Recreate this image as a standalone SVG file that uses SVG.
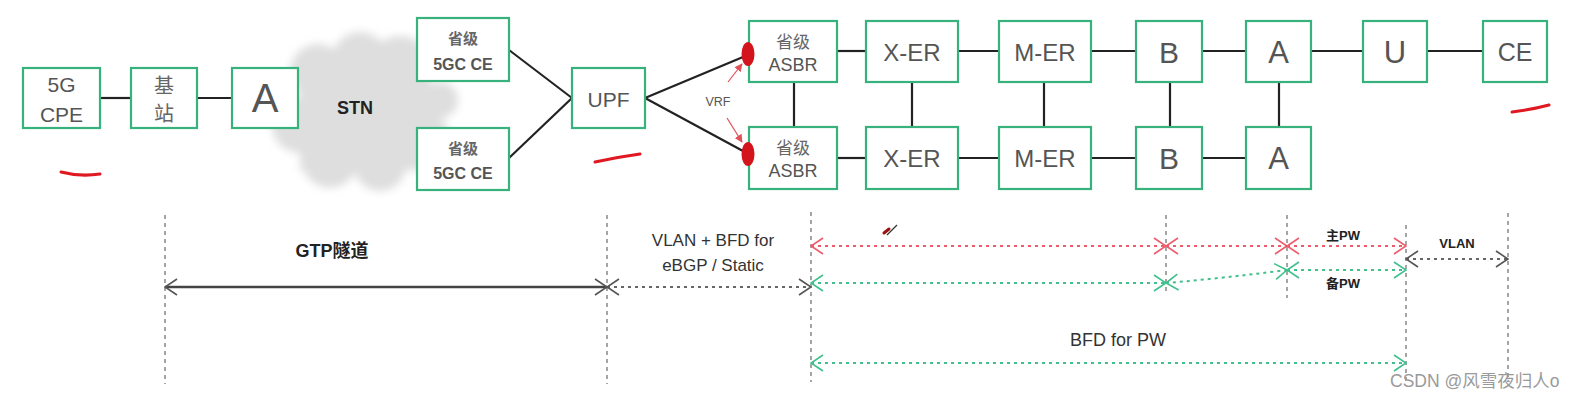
<svg xmlns="http://www.w3.org/2000/svg" width="1586" height="400" viewBox="0 0 1586 400">
<style>
.box{fill:#fff;stroke:#38b27c;stroke-width:2.2}
.t{font-family:"Liberation Sans","Noto Sans CJK SC",sans-serif;fill:#555;text-anchor:middle;dominant-baseline:central}
.cn{font-family:"Noto Sans CJK SC","Liberation Sans",sans-serif;fill:#666;text-anchor:middle;dominant-baseline:central}
.b{font-family:"Liberation Sans","Noto Sans CJK SC",sans-serif;fill:#222;font-weight:bold;text-anchor:middle;dominant-baseline:central}
.lt{font-family:"Liberation Sans","Noto Sans CJK SC",sans-serif;fill:#333;text-anchor:middle;dominant-baseline:central}
.ln{stroke:#222;stroke-width:2.2;fill:none}
.vd{stroke:#888;stroke-width:1.5;stroke-dasharray:4 4;fill:none}
.red{stroke:#ee5b6a;stroke-width:2;stroke-dasharray:3 4;fill:none;marker-start:url(#mr);marker-end:url(#mr)}
.grn{stroke:#3fc08d;stroke-width:2;stroke-dasharray:3 4;fill:none;marker-start:url(#mg);marker-end:url(#mg)}
.gry{stroke:#666;stroke-width:2;stroke-dasharray:3 4;fill:none;marker-start:url(#mk);marker-end:url(#mk)}
.mark{stroke:#e01822;stroke-width:3;fill:none;stroke-linecap:round}
</style>
<defs>
<marker id="mk" viewBox="0 0 14 18" refX="13" refY="9" markerWidth="14" markerHeight="18" markerUnits="userSpaceOnUse" orient="auto-start-reverse"><path d="M1,1 L13,9 L1,17" fill="none" stroke="#555" stroke-width="1.6"/></marker>
<marker id="mr" viewBox="0 0 14 18" refX="13" refY="9" markerWidth="14" markerHeight="18" markerUnits="userSpaceOnUse" orient="auto-start-reverse"><path d="M1,1 L13,9 L1,17" fill="none" stroke="#ee5b6a" stroke-width="1.6"/></marker>
<marker id="mg" viewBox="0 0 14 18" refX="13" refY="9" markerWidth="14" markerHeight="18" markerUnits="userSpaceOnUse" orient="auto-start-reverse"><path d="M1,1 L13,9 L1,17" fill="none" stroke="#3fc08d" stroke-width="1.6"/></marker>
<marker id="ma" viewBox="0 0 10 10" refX="9" refY="5" markerWidth="8" markerHeight="8" markerUnits="userSpaceOnUse" orient="auto"><path d="M0,0 L10,5 L0,10 Z" fill="#e0505a"/></marker>
<filter id="blur" x="-20%" y="-20%" width="140%" height="140%"><feGaussianBlur stdDeviation="4"/></filter>
</defs>
<rect width="1586" height="400" fill="#fff"/>

<g id="stn-cloud" filter="url(#blur)" fill="#dedede">
<circle cx="318" cy="72" r="28"/>
<circle cx="360" cy="60" r="28"/>
<circle cx="400" cy="68" r="32"/>
<circle cx="300" cy="125" r="28"/>
<circle cx="330" cy="160" r="28"/>
<circle cx="380" cy="165" r="26"/>
<circle cx="420" cy="140" r="30"/>
<circle cx="440" cy="100" r="18"/>
<rect x="300" y="72" width="130" height="98"/>
</g>
<text class="b" x="355" y="108" font-size="18">STN</text>

<g id="connectors">
<line class="ln" x1="100" y1="98" x2="131" y2="98"/>
<line class="ln" x1="197" y1="98" x2="232" y2="98"/>
<line class="ln" x1="509" y1="50" x2="572" y2="98"/>
<line class="ln" x1="509" y1="158" x2="572" y2="98"/>
<line class="ln" x1="645" y1="98" x2="743" y2="57"/>
<line class="ln" x1="645" y1="98" x2="743" y2="151"/>
<line class="ln" x1="837" y1="51" x2="866" y2="51"/>
<line class="ln" x1="958" y1="51" x2="999" y2="51"/>
<line class="ln" x1="1091" y1="51" x2="1136" y2="51"/>
<line class="ln" x1="1202" y1="51" x2="1246" y2="51"/>
<line class="ln" x1="1311" y1="51" x2="1363" y2="51"/>
<line class="ln" x1="1427" y1="51" x2="1483" y2="51"/>
<line class="ln" x1="837" y1="158" x2="866" y2="158"/>
<line class="ln" x1="958" y1="158" x2="999" y2="158"/>
<line class="ln" x1="1091" y1="158" x2="1136" y2="158"/>
<line class="ln" x1="1202" y1="158" x2="1246" y2="158"/>
<line class="ln" x1="794" y1="82" x2="794" y2="127"/>
<line class="ln" x1="912" y1="82" x2="912" y2="127"/>
<line class="ln" x1="1044" y1="82" x2="1044" y2="127"/>
<line class="ln" x1="1170" y1="82" x2="1170" y2="127"/>
<line class="ln" x1="1279" y1="82" x2="1279" y2="127"/>
</g>

<g id="cpe"><rect class="box" x="23" y="68" width="77" height="60"/><text class="t" x="61.5" y="84" font-size="21">5G</text><text class="t" x="61.5" y="114" font-size="21">CPE</text></g>
<g id="bs"><rect class="box" x="131" y="68" width="66" height="60"/><text class="cn" x="164" y="84" font-size="20">基</text><text class="cn" x="164" y="112" font-size="20">站</text></g>
<g id="a0"><rect class="box" x="232" y="68" width="66" height="60"/><text class="t" x="265" y="98" font-size="40">A</text></g>
<g id="ce5gc1"><rect class="box" x="417" y="18" width="92" height="63"/><text class="cn" x="463" y="37" font-size="15" font-weight="bold">省级</text><text class="t" x="463" y="64" font-size="16" font-weight="bold">5GC CE</text></g>
<g id="ce5gc2"><rect class="box" x="417" y="128" width="92" height="62"/><text class="cn" x="463" y="147" font-size="15" font-weight="bold">省级</text><text class="t" x="463" y="173" font-size="16" font-weight="bold">5GC CE</text></g>
<g id="upf"><rect class="box" x="572" y="68" width="73" height="60"/><text class="t" x="608.5" y="99" font-size="21">UPF</text></g>

<g id="asbr1"><rect class="box" x="749" y="21" width="88" height="61"/><text class="cn" x="793" y="40" font-size="17">省级</text><text class="t" x="793" y="65" font-size="18">ASBR</text></g>
<g id="asbr2"><rect class="box" x="749" y="127" width="88" height="62"/><text class="cn" x="793" y="146" font-size="17">省级</text><text class="t" x="793" y="171" font-size="18">ASBR</text></g>
<g id="xer1"><rect class="box" x="866" y="21" width="92" height="61"/><text class="t" x="912" y="52" font-size="24">X-ER</text></g>
<g id="xer2"><rect class="box" x="866" y="127" width="92" height="62"/><text class="t" x="912" y="158" font-size="24">X-ER</text></g>
<g id="mer1"><rect class="box" x="999" y="21" width="92" height="61"/><text class="t" x="1045" y="52" font-size="24">M-ER</text></g>
<g id="mer2"><rect class="box" x="999" y="127" width="92" height="62"/><text class="t" x="1045" y="158" font-size="24">M-ER</text></g>
<g id="b1"><rect class="box" x="1136" y="21" width="66" height="61"/><text class="t" x="1169" y="52" font-size="30">B</text></g>
<g id="b2"><rect class="box" x="1136" y="127" width="66" height="62"/><text class="t" x="1169" y="158" font-size="30">B</text></g>
<g id="a1"><rect class="box" x="1246" y="21" width="65" height="61"/><text class="t" x="1278.5" y="52" font-size="31">A</text></g>
<g id="a2"><rect class="box" x="1246" y="127" width="65" height="62"/><text class="t" x="1278.5" y="158" font-size="31">A</text></g>
<g id="u"><rect class="box" x="1363" y="21" width="64" height="61"/><text class="t" x="1395" y="52" font-size="31">U</text></g>
<g id="ce"><rect class="box" x="1483" y="21" width="64" height="61"/><text class="t" x="1515" y="52" font-size="25">CE</text></g>

<g id="vrf">
<ellipse cx="748" cy="54" rx="6.5" ry="12" fill="#d4141c"/>
<ellipse cx="748" cy="154" rx="6.5" ry="12" fill="#d4141c"/>
<line x1="728" y1="82" x2="742" y2="64" stroke="#e0505a" stroke-width="1.2" marker-end="url(#ma)"/>
<line x1="727" y1="118" x2="742" y2="142" stroke="#e0505a" stroke-width="1.2" marker-end="url(#ma)"/>
<text class="t" x="718" y="102" font-size="12.5">VRF</text>
</g>

<g id="red-marks">
<path class="mark" d="M61,172 Q80,177 100,174"/>
<path class="mark" d="M595,162 Q618,157 640,154"/>
<path class="mark" d="M1512,112 Q1530,110 1549,105"/>
</g>

<g id="guides">
<line class="vd" x1="165" y1="215" x2="165" y2="384"/>
<line class="vd" x1="607" y1="215" x2="607" y2="384"/>
<line class="vd" x1="811" y1="212" x2="811" y2="382"/>
<line class="vd" x1="1166" y1="215" x2="1166" y2="292"/>
<line class="vd" x1="1287" y1="215" x2="1287" y2="298"/>
<line class="vd" x1="1406" y1="225" x2="1406" y2="382"/>
<line class="vd" x1="1508" y1="213" x2="1508" y2="382"/>
</g>

<g id="spans">
<line x1="165" y1="287" x2="607" y2="287" stroke="#444" stroke-width="2.5" marker-start="url(#mk)" marker-end="url(#mk)"/>
<line class="gry" x1="607" y1="287" x2="811" y2="287"/>
<line class="red" x1="811" y1="246" x2="1166" y2="246"/>
<line class="red" x1="1166" y1="246" x2="1287" y2="246"/>
<line class="red" x1="1287" y1="246" x2="1406" y2="246"/>
<line class="grn" x1="811" y1="283" x2="1166" y2="283"/>
<path class="grn" d="M1166,283 Q1225,278 1287,270"/>
<line class="grn" x1="1287" y1="270" x2="1406" y2="270"/>
<line class="gry" x1="1406" y1="259" x2="1508" y2="259"/>
<line class="grn" x1="811" y1="363" x2="1406" y2="363"/>
</g>

<g id="labels">
<text class="b" x="332" y="251" font-size="18">GTP隧道</text>
<text class="lt" x="713" y="240" font-size="17">VLAN + BFD for</text>
<text class="lt" x="713" y="265" font-size="17">eBGP / Static</text>
<text class="lt" x="1118" y="340" font-size="18">BFD for PW</text>
<text class="b" x="1343" y="235" font-size="13">主PW</text>
<text class="b" x="1343" y="283" font-size="13">备PW</text>
<text class="b" x="1457" y="243" font-size="13">VLAN</text>
</g>

<g id="cursor">
<line x1="887" y1="235" x2="897" y2="225" stroke="#333" stroke-width="1.2"/>
<line x1="884" y1="233" x2="889" y2="229" stroke="#a01010" stroke-width="3" stroke-linecap="round"/>
</g>

<text x="1390" y="387" font-family="Liberation Sans,Noto Sans CJK SC,sans-serif" font-size="17.5" fill="#9a9a9a">CSDN @风雪夜归人o</text>
</svg>
